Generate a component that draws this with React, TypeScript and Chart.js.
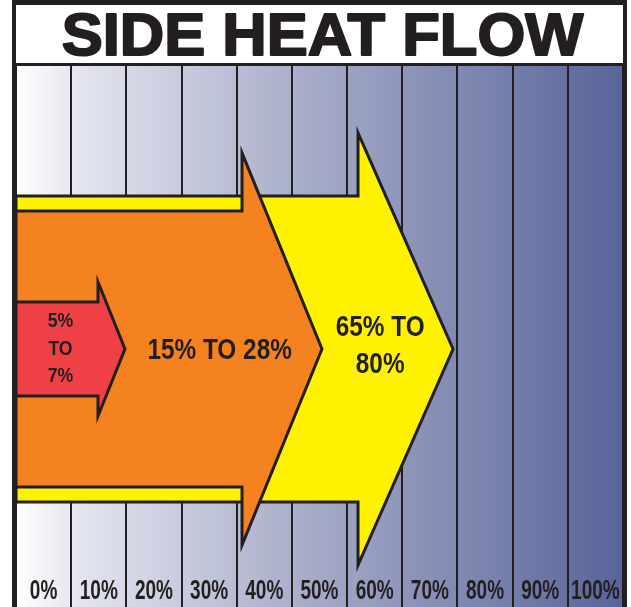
import React, { useEffect, useRef } from 'react';
import { Chart, registerables } from 'chart.js';

Chart.register(...registerables);

// ---- data ----
const titleText = 'SIDE HEAT FLOW';
const tickLabels = ['0%', '10%', '20%', '30%', '40%', '50%', '60%', '70%', '80%', '90%', '100%'];

// arrows, listed front to back (values on the percent scale / heat-flow band units)
const arrowNames = ['5% to 7%', '15% to 28%', '65% to 80%'];
const arrowTip = [14.75, 50.45, 74.2];
const arrowHeadBack = [9.86, 35.96, 56.98];
const arrowShaftHalf = [47, 138, 153];
const arrowHeadHalf = [67, 196, 216];
const arrowText = [['5%', 'TO', '7%'], ['15% TO 28%'], ['65% TO', '80%']];

// ---- styling / layout ----
const arrowFill = ['#ef4046', '#f58220', '#fff200'];
const ink = '#231f20';
const FONT = '"Liberation Sans", Arial, sans-serif';
const textLayout = {
  x: [3.06, 31.9, 61.0],
  y: [[27.5, 0, -27], [-2], [21, -15.5]],
  size: [21, 29, 29],
  squeeze: 0.84,
};
const tickStyle = { size: 28, squeeze: 0.68, fromBottom: 16 };
const titleStyle = { size: 60, stretch: 1.025, stroke: 2, centerY: 38 };
const X_MIN = -5;
const X_MAX = 105;
const Y_MIN = -258;
const Y_MAX = 283;

function arrowPoints(i: number) {
  const s = arrowShaftHalf[i];
  const h = arrowHeadHalf[i];
  const b = arrowHeadBack[i];
  const t = arrowTip[i];
  return [
    { x: X_MIN, y: s },
    { x: b, y: s },
    { x: b, y: h },
    { x: t, y: 0 },
    { x: b, y: -h },
    { x: b, y: -s },
    { x: X_MIN, y: -s },
    { x: X_MIN, y: s },
  ];
}

function squeezedText(ctx: any, text: string, x: number, y: number, sx: number, stroke = 0) {
  ctx.save();
  ctx.translate(x, y);
  ctx.scale(sx, 1);
  if (stroke > 0) {
    ctx.lineWidth = stroke;
    ctx.lineJoin = 'round';
    ctx.strokeStyle = ink;
    ctx.strokeText(text, 0, 0);
  }
  ctx.fillText(text, 0, 0);
  ctx.restore();
}

const framePlugin = {
  id: 'frame',
  beforeDraw(chart: any) {
    const { ctx, chartArea: a, width, height } = chart;
    ctx.save();
    ctx.fillStyle = '#ffffff';
    ctx.fillRect(0, 0, width, height);
    const g = ctx.createLinearGradient(a.left, 0, a.right, 0);
    g.addColorStop(0, '#ffffff');
    g.addColorStop(0.1, '#e4e5ef');
    g.addColorStop(0.5, '#a3a9c6');
    g.addColorStop(1, '#58649a');
    ctx.fillStyle = g;
    ctx.fillRect(a.left, a.top, a.right - a.left, a.bottom - a.top);
    ctx.restore();
  },
  afterDatasetsDraw(chart: any) {
    const { ctx, chartArea: a } = chart;
    const xs = chart.scales.xa;
    const ys = chart.scales.y;
    ctx.save();
    ctx.fillStyle = ink;
    ctx.textAlign = 'center';
    ctx.textBaseline = 'middle';
    arrowText.forEach((lines, i) => {
      ctx.font = `bold ${textLayout.size[i]}px ${FONT}`;
      lines.forEach((t, j) => {
        squeezedText(ctx, t, xs.getPixelForValue(textLayout.x[i]), ys.getPixelForValue(textLayout.y[i][j]), textLayout.squeeze);
      });
    });
    // category tick labels, placed by the x axis
    const xc = chart.scales.x;
    ctx.font = `bold ${tickStyle.size}px ${FONT}`;
    xc.getLabels().forEach((lab: string, i: number) => {
      squeezedText(ctx, lab, xc.getPixelForTick(i), a.bottom - tickStyle.fromBottom, tickStyle.squeeze);
    });
    ctx.restore();
  },
  afterDraw(chart: any) {
    const { ctx, chartArea: a, height } = chart;
    ctx.save();
    ctx.fillStyle = ink;
    ctx.fillRect(a.left - 4, 0, a.right - a.left + 8, 5);
    ctx.fillRect(a.left - 4, 0, 4, height);
    ctx.fillRect(a.right, 0, 4, height);
    ctx.fillRect(a.left, a.top - 3, a.right - a.left, 3);
    // title
    ctx.font = `bold ${titleStyle.size}px ${FONT}`;
    ctx.textAlign = 'center';
    ctx.textBaseline = 'middle';
    squeezedText(ctx, titleText, (a.left + a.right) / 2 + 3, titleStyle.centerY, titleStyle.stretch, titleStyle.stroke);
    ctx.restore();
  },
};

export default function App() {
  const ref = useRef<HTMLCanvasElement | null>(null);

  useEffect(() => {
    if (!ref.current) return;
    const chart = new Chart(ref.current, {
      type: 'scatter',
      data: {
        labels: tickLabels,
        datasets: arrowNames.map((name, i) => ({
          label: name,
          data: arrowPoints(i),
          xAxisID: 'xa',
          yAxisID: 'y',
          showLine: true,
          fill: 'shape',
          backgroundColor: arrowFill[i],
          borderColor: ink,
          borderWidth: 3,
          borderJoinStyle: 'miter',
          tension: 0,
          pointRadius: 0,
          pointHoverRadius: 0,
        })) as any,
      },
      options: {
        animation: false,
        responsive: false,
        events: [],
        layout: { padding: { left: 16, right: 8, top: 66, bottom: 0 } },
        plugins: {
          legend: { display: false },
          tooltip: { enabled: false },
          title: { display: false },
        },
        scales: {
          x: {
            type: 'category',
            labels: tickLabels,
            offset: true,
            grid: { offset: true, color: ink, lineWidth: 2, drawTicks: false },
            border: { display: false },
            ticks: { display: false },
          },
          xa: { type: 'linear', display: false, min: X_MIN, max: X_MAX },
          y: { type: 'linear', display: false, min: Y_MIN, max: Y_MAX },
        },
      } as any,
      plugins: [framePlugin],
    });
    return () => chart.destroy();
  }, []);

  return (
    <div style={{ position: 'absolute', left: 0, top: 0, width: 631, height: 607 }}>
      <canvas ref={ref} width={631} height={607} style={{ display: 'block' }} />
    </div>
  );
}
